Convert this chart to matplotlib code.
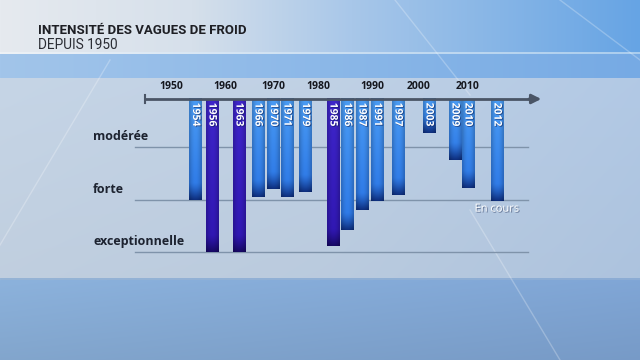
import numpy as np
import matplotlib
matplotlib.use("Agg")
import matplotlib.pyplot as plt
import matplotlib.patheffects as pe
from matplotlib.colors import to_rgb

# data
years = [1954, 1956, 1963, 1966, 1970, 1971, 1979, 1985, 1986, 1987, 1991, 1997, 2003, 2009, 2010, 2012]
# depth of each bar: 1 = modérée, 2 = forte, 3 = exceptionnelle
intensity = [2.01, 3.0, 3.0, 1.94, 1.80, 1.95, 1.85, 2.89, 2.58, 2.20, 2.03, 1.91, 0.73, 1.24, 1.77, 2.02]
severe = [False, True, True, False, False, False, False, True, False, False, False, False, False, False, False, False]
decades = [1950, 1960, 1970, 1980, 1990, 2000, 2010]
levels = ["modérée", "forte", "exceptionnelle"]
level_values = [1, 2, 3]

# warped time axis (the reference spreads crowded years apart)
anchor_years = [1945, 1950, 1954, 1956, 1960, 1963, 1966, 1970, 1971, 1979, 1980, 1985, 1986,
                1987, 1990, 1991, 1997, 2000, 2003, 2009, 2010, 2012, 2020]
anchor_x = [145, 171.7, 195.6, 212, 225.7, 239, 258, 273.5, 287, 305.5, 318.7, 333, 347.5,
            362, 372, 377.5, 398, 419, 429, 455, 468, 497, 530]


def xpos(y):
    return np.interp(y, anchor_years, anchor_x)


W, H = 640, 360
fig = plt.figure(figsize=(6.4, 3.6), dpi=100)

# ---- background ----
bg = fig.add_axes([0, 0, 1, 1])
bg.set_xlim(0, W)
bg.set_ylim(H, 0)
bg.axis("off")


def hgrad(stops):
    xs = np.linspace(0, 1, W)
    pos = [s[0] for s in stops]
    cols = np.array([s[1] for s in stops], dtype=float) / 255
    return np.stack([np.interp(xs, pos, cols[:, i]) for i in range(3)], axis=1)


img = np.zeros((H, W, 3))
img[:52] = hgrad([(0, (230, 234, 239)), (0.3, (214, 224, 235)), (0.55, (168, 199, 233)), (1, (102, 164, 228))])
img[52:54] = hgrad([(0, (238, 242, 246)), (1, (170, 205, 238))])
img[54:78] = hgrad([(0, (162, 197, 234)), (0.5, (140, 184, 232)), (1, (118, 170, 228))])
main = hgrad([(0, (198, 213, 230)), (0.5, (192, 209, 229)), (1, (178, 201, 229))])
for r in range(78, 278):
    t = (r - 78) / 200
    img[r] = main * (1.0 - 0.03 * t)
img[278:280] = hgrad([(0, (150, 180, 214)), (1, (140, 172, 212))])
low = hgrad([(0, (140, 178, 220)), (1, (128, 166, 214))])
for r in range(280, H):
    t = (r - 280) / 80
    img[r] = low * (1.0 - 0.07 * t)
bg.imshow(img, extent=(0, W, H, 0), aspect="auto", interpolation="bilinear")

# faint light streaks
for (x0, y0, x1, y1) in [(0, 245, 110, 60), (395, 0, 470, 95), (470, 210, 560, 360), (560, 0, 640, 60)]:
    bg.plot([x0, x1], [y0, y1], color="white", lw=1.0, alpha=0.25)

bg.text(38, 30, "INTENSITÉ DES VAGUES DE FROID", family="Roboto", weight="bold",
        fontsize=9.5, color="#1e1f24", va="center", ha="left")
bg.text(38, 45, "DEPUIS 1950", family="Roboto", fontsize=9.8, color="#2a2c33",
        va="center", ha="left")

# ---- chart (x in warped position units, y in intensity units) ----
ax = fig.add_axes([0, 0, 1, 1])
ax.patch.set_alpha(0)
ax.axis("off")
y0_px, unit_px = 95.0, 52.33
base = (99 - y0_px) / unit_px

# level lines and labels
for lab, v in zip(levels, level_values):
    ax.plot([135, 528], [v, v], color="#7f93aa", lw=1.0, zorder=1)
    ax.text(93, v - 0.2, lab, family="Open Sans", weight="bold", fontsize=9,
            color="#1d2330", ha="left", va="center")

light_stops = [to_rgb("#4b9df5"), to_rgb("#2b76e6"), to_rgb("#0c2a78")]
dark_stops = [to_rgb("#3f26cc"), to_rgb("#2f16b0"), to_rgb("#150760")]
bw = 12.5
for yr, v, sev in zip(years, intensity, severe):
    x = xpos(yr)
    n = max(int((v - base) * unit_px), 2)
    c_top, c_mid, c_bot = dark_stops if sev else light_stops
    col = np.zeros((n, 1, 3))
    for r in range(n):
        from_bottom = n - r
        t = r / n
        c = np.array(c_top) * (1 - t) + np.array(c_mid) * t
        if from_bottom < 18:
            k = ((18 - from_bottom) / 18) ** 1.3
            c = c * (1 - k) + np.array(c_bot) * k
        col[r, 0] = c
    shade = 1.0 - 0.18 * np.abs(np.linspace(-1, 1, 8)) ** 2
    grad = col * shade[None, :, None]
    ax.imshow(grad, extent=(x - bw / 2, x + bw / 2, v, base), aspect="auto",
              interpolation="bilinear", zorder=2)
    ax.text(x, base + 0.07, str(yr), rotation=270, ha="center", va="top",
            family="Open Sans", weight="bold", fontsize=7.5, color="white", zorder=3,
            path_effects=[pe.withSimplePatchShadow(offset=(0.6, -0.6), shadow_rgbFace="#0a1a50", alpha=0.6)])

# time axis with arrow
ax.plot([145, 532], [base, base], color="#4a5566", lw=2.0, zorder=4, solid_capstyle="butt")
ax.plot([145, 145], [base - 0.08, base + 0.08], color="#4a5566", lw=1.5, zorder=4)
ax.annotate("", xy=(544, base), xytext=(526, base),
            arrowprops=dict(arrowstyle="-|>", color="#4a5566", lw=2, mutation_scale=14), zorder=4)
for d in decades:
    ax.text(xpos(d), base - 0.24, str(d), family="Open Sans", weight="bold", fontsize=7.5,
            color="#15171e", ha="center", va="center")

ax.text(xpos(2012), 2.18, "En cours", family="Open Sans", fontsize=8, color="white",
        ha="center", va="center",
        path_effects=[pe.withSimplePatchShadow(offset=(0.7, -0.7), shadow_rgbFace="#2a3a60", alpha=0.6)])

ax.set_xlim(0, W)
ax.set_ylim((H - y0_px) / unit_px, -y0_px / unit_px)

fig.savefig("out.png", dpi=100)
